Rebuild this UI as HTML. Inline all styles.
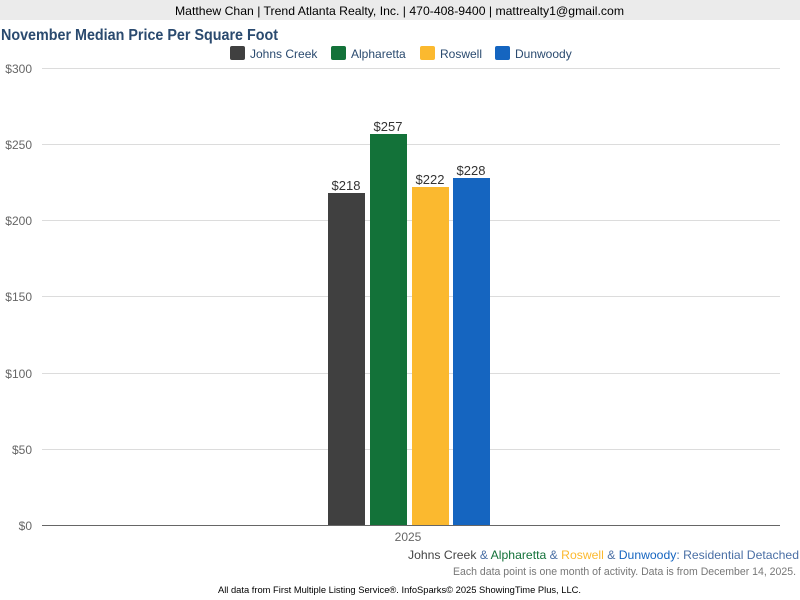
<!DOCTYPE html>
<html><head><meta charset="utf-8"><style>
body{margin:0;width:800px;height:600px;background:#fff;font-family:"Liberation Sans",sans-serif;overflow:hidden;position:relative}
</style></head><body>
<svg width="800" height="600" style="position:absolute;left:0;top:0" font-family="Liberation Sans, sans-serif">
<rect x="0" y="0" width="800" height="20" fill="#ebebeb"/>
<text x="175" y="15" font-size="12" fill="#000" textLength="449" lengthAdjust="spacingAndGlyphs">Matthew Chan | Trend Atlanta Realty, Inc. | 470-408-9400 | mattrealty1@gmail.com</text>
<text x="1" y="40" font-size="16" font-weight="bold" fill="#2a4a6f" textLength="277" lengthAdjust="spacingAndGlyphs">November Median Price Per Square Foot</text>
<g font-size="12" fill="#2a4a6f">
<rect x="230" y="46" width="15" height="14" rx="2" fill="#404040"/><text x="250" y="58">Johns Creek</text>
<rect x="331" y="46" width="15" height="14" rx="2" fill="#137239"/><text x="351" y="58">Alpharetta</text>
<rect x="420" y="46" width="15" height="14" rx="2" fill="#fbb92f"/><text x="440" y="58">Roswell</text>
<rect x="495" y="46" width="15" height="14" rx="2" fill="#1565c0"/><text x="515" y="58">Dunwoody</text>
</g>
<g stroke="#dcdcdc" stroke-width="1">
<line x1="42" x2="780" y1="68.5" y2="68.5"/><line x1="42" x2="780" y1="144.5" y2="144.5"/>
<line x1="42" x2="780" y1="220.5" y2="220.5"/><line x1="42" x2="780" y1="296.5" y2="296.5"/>
<line x1="42" x2="780" y1="373.5" y2="373.5"/><line x1="42" x2="780" y1="449.5" y2="449.5"/>
</g>
<g font-size="12" fill="#666" text-anchor="end">
<text x="32" y="73">$300</text><text x="32" y="149">$250</text><text x="32" y="225">$200</text>
<text x="32" y="301">$150</text><text x="32" y="378">$100</text><text x="32" y="454">$50</text><text x="32" y="530">$0</text>
</g>
<rect x="328" y="193" width="37" height="332" fill="#404040"/>
<rect x="370" y="134" width="37" height="391" fill="#137239"/>
<rect x="412" y="187" width="37" height="338" fill="#fbb92f"/>
<rect x="453" y="178" width="37" height="347" fill="#1565c0"/>
<line x1="42" x2="780" y1="525.5" y2="525.5" stroke="#666"/>
<g font-size="13" fill="#333" text-anchor="middle">
<text x="346" y="190">$218</text><text x="388" y="131">$257</text><text x="430" y="184">$222</text><text x="471" y="175">$228</text>
</g>
<text x="408" y="541" font-size="12" fill="#666" text-anchor="middle">2025</text>
<text x="408" y="559" font-size="12" fill="#4a6fa5" textLength="391" lengthAdjust="spacingAndGlyphs"><tspan fill="#444">Johns Creek</tspan> &amp; <tspan fill="#137239">Alpharetta</tspan> &amp; <tspan fill="#fbb92f">Roswell</tspan> &amp; <tspan fill="#1565c0">Dunwoody</tspan>: Residential Detached</text>
<text x="453" y="575" font-size="11" fill="#777" textLength="343" lengthAdjust="spacingAndGlyphs">Each data point is one month of activity. Data is from December 14, 2025.</text>
<text x="218" y="593" font-size="9" fill="#000" textLength="363" lengthAdjust="spacingAndGlyphs">All data from First Multiple Listing Service®. InfoSparks© 2025 ShowingTime Plus, LLC.</text>
</svg>
</body></html>
